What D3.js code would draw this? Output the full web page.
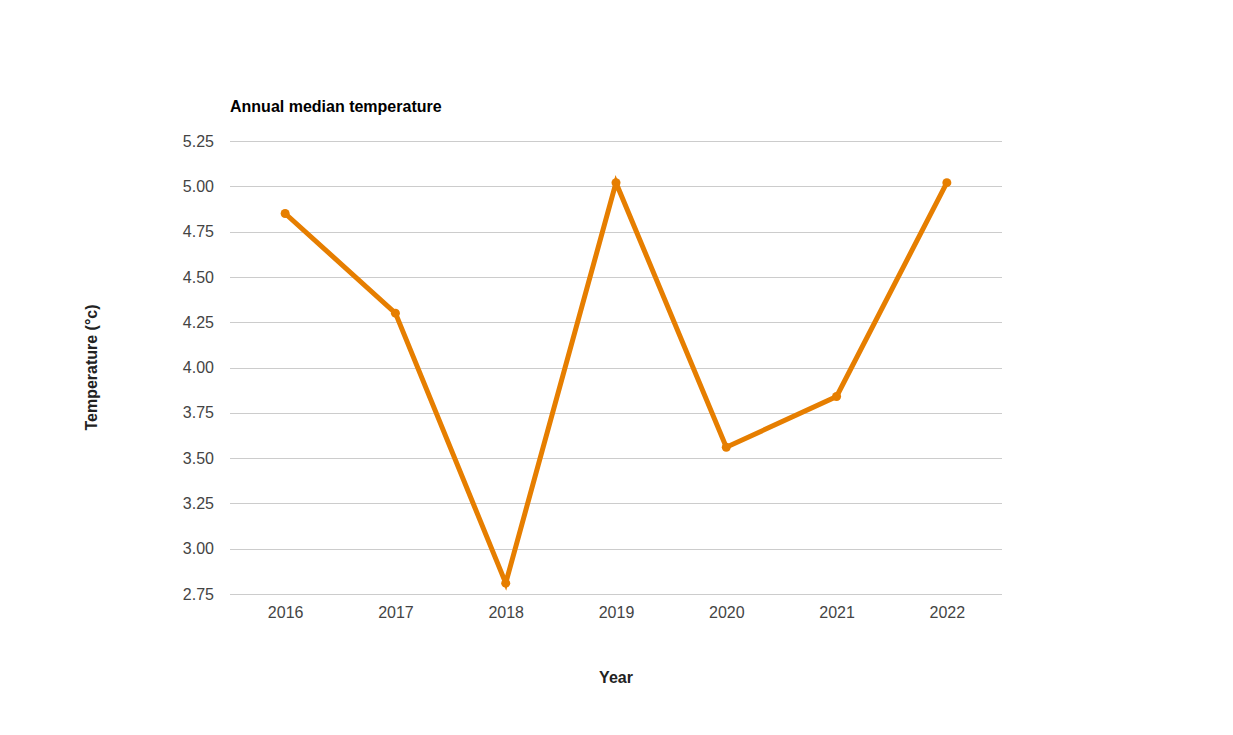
<!DOCTYPE html>
<html><head><meta charset="utf-8">
<script src="https://cdn.jsdelivr.net/npm/d3@7"></script>
<style>body{margin:0;background:#fff;}svg{display:block;font-family:"Liberation Sans",Arial,sans-serif;}</style>
</head><body>
<svg id="c" width="1233" height="735"></svg>
<script>
const years = ["2016","2017","2018","2019","2020","2021","2022"];
const temps = [4.85, 4.30, 2.81, 5.02, 3.56, 3.84, 5.02];
const yTicks = [2.75, 3.00, 3.25, 3.50, 3.75, 4.00, 4.25, 4.50, 4.75, 5.00, 5.25];

const svg = d3.select("#c");
const L = 230, R = 1002, T = 141, B = 594;
const x = d3.scalePoint().domain(years).range([L, R]).padding(0.5);
const y = d3.scaleLinear().domain([2.75, 5.25]).range([B, T]);

// gridlines
svg.append("g").selectAll("line").data(yTicks).join("line")
  .attr("x1", L).attr("x2", R)
  .attr("y1", d => Math.round(y(d)) + 0.5).attr("y2", d => Math.round(y(d)) + 0.5)
  .attr("stroke", "#cccccc").attr("stroke-width", 1);

// y axis labels
const ya = svg.append("g").attr("transform", `translate(${L},0)`)
  .call(d3.axisLeft(y).tickValues(yTicks).tickFormat(d3.format(".2f")).tickSize(0).tickPadding(16));
ya.select(".domain").remove();
ya.selectAll("text").attr("font-size", 16).attr("fill", "#444").attr("font-family", "Liberation Sans, Arial, sans-serif");

// x axis labels
const xa = svg.append("g").attr("transform", `translate(0,${B})`)
  .call(d3.axisBottom(x).tickSize(0).tickPadding(13));
xa.select(".domain").remove();
xa.selectAll("text").attr("font-size", 16).attr("fill", "#444").attr("font-family", "Liberation Sans, Arial, sans-serif");

// line
const data = years.map((yr, i) => ({yr, v: temps[i]}));
svg.append("path").datum(data)
  .attr("fill", "none").attr("stroke", "#e67e00").attr("stroke-width", 5)
  .attr("stroke-linejoin", "miter")
  .attr("d", d3.line().x(d => x(d.yr)).y(d => y(d.v)));
svg.append("g").selectAll("circle").data(data).join("circle")
  .attr("cx", d => x(d.yr)).attr("cy", d => y(d.v)).attr("r", 4.5).attr("fill", "#e67e00");

// title
svg.append("text").attr("x", L).attr("y", 112).attr("font-size", 16).attr("font-weight", "bold")
  .attr("fill", "#000").text("Annual median temperature");
// axis titles
svg.append("text").attr("x", (L + R) / 2).attr("y", 683).attr("text-anchor", "middle")
  .attr("font-size", 16).attr("font-weight", "bold").attr("fill", "#222").text("Year");
svg.append("text").attr("transform", `translate(97,${(T + B) / 2}) rotate(-90)`).attr("text-anchor", "middle")
  .attr("font-size", 16).attr("font-weight", "bold").attr("fill", "#222").text("Temperature (°c)");
</script>
</body></html>
